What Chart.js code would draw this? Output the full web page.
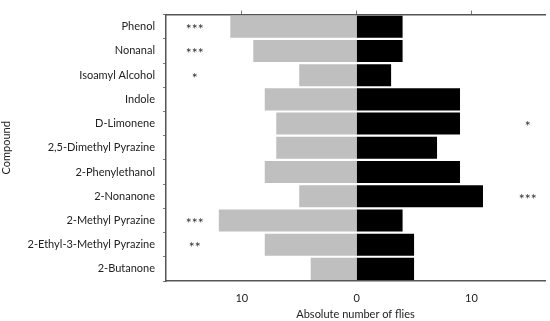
<!DOCTYPE html>
<html>
<head>
<meta charset="utf-8">
<script src="https://cdn.jsdelivr.net/npm/chart.js@4"></script>
<style>
  html, body { margin: 0; padding: 0; background: #fff; }
  #wrap { width: 550px; height: 321px; }
</style>
</head>
<body>
<div id="wrap"><canvas id="bar-chart" width="550" height="321"></canvas></div>
<script>
// compounds, top to bottom
var compounds = ['Phenol', 'Nonanal', 'Isoamyl Alcohol', 'Indole', 'D-Limonene',
    '2,5-Dimethyl Pyrazine', '2-Phenylethanol', '2-Nonanone', '2-Methyl Pyrazine',
    '2-Ethyl-3-Methyl Pyrazine', '2-Butanone'];
// gray bars (left side), black bars (right side)
var leftFlies = [11, 9, 5, 8, 7, 7, 8, 5, 12, 8, 4];
var rightFlies = [4, 4, 3, 9, 9, 7, 9, 11, 4, 5, 5];
// significance marks
var sigLeft = ['***', '***', '*', '', '', '', '', '', '***', '**', ''];
var sigRight = ['', '', '', '', '*', '', '', '***', '', '', ''];
var xTicks = [-10, 0, 10];

var FONT = 'Lato, "Open Sans", sans-serif';

document.addEventListener("DOMContentLoaded", function() {
    var ctx = document.getElementById('bar-chart').getContext('2d');

    // draws the asterisks next to the bars
    var starsPlugin = {
        id: 'stars',
        afterDatasetsDraw: function(chart) {
            var c = chart.ctx;
            var xs = chart.scales.x, ys = chart.scales.y;
            c.save();
            c.fillStyle = '#333';
            c.font = '14px ' + FONT;
            c.textAlign = 'center';
            c.textBaseline = 'middle';
            for (var i = 0; i < compounds.length; i++) {
                var y = ys.getPixelForValue(i) + 3;
                if (sigLeft[i]) c.fillText(sigLeft[i], xs.getPixelForValue(-14.1), y);
                if (sigRight[i]) c.fillText(sigRight[i], xs.getPixelForValue(14.9), y);
            }
            c.restore();
        }
    };

    new Chart(ctx, {
        type: 'bar',
        data: {
            labels: compounds,
            datasets: [{
                data: leftFlies.map(function(v) { return -v; }),
                backgroundColor: '#bfbfbf'
            }, {
                data: rightFlies,
                backgroundColor: '#000000'
            }]
        },
        options: {
            indexAxis: 'y',
            responsive: false,
            animation: false,
            layout: { padding: { top: 0, right: 5, bottom: 0, left: 0 } },
            plugins: { legend: { display: false }, tooltip: { enabled: false } },
            datasets: { bar: { categoryPercentage: 1, barPercentage: 0.91 } },
            scales: {
                x: {
                    stacked: true,
                    min: -16.6, max: 16.4,
                    afterBuildTicks: function(s) { s.ticks = xTicks.map(function(v) { return { value: v }; }); },
                    afterFit: function(s) { s.height = 40; },
                    grid: { display: false },
                    border: { display: true, color: '#555', width: 1.5 },
                    ticks: {
                        padding: 3, color: '#222', font: { family: FONT, size: 11 },
                        callback: function(v) { return Math.abs(v); }
                    },
                    title: {
                        display: true, text: 'Absolute number of flies', color: '#222',
                        font: { family: FONT, size: 11 }, padding: { top: 8, bottom: 0 }
                    }
                },
                x2: {
                    position: 'top',
                    min: -16.6, max: 16.4,
                    afterBuildTicks: function(s) { s.ticks = xTicks.map(function(v) { return { value: v }; }); },
                    afterFit: function(s) { s.height = 5; },
                    grid: { drawOnChartArea: false, tickLength: 4, color: '#777' },
                    border: { display: true, color: '#555', width: 1.5 },
                    ticks: { display: false }
                },
                y: {
                    stacked: true,
                    afterFit: function(s) { s.width = 166; },
                    grid: { drawOnChartArea: false, tickLength: 3, color: '#777' },
                    border: { display: true, color: '#555', width: 1.5 },
                    ticks: { padding: 8, color: '#222', font: { family: FONT, size: 11 } },
                    title: {
                        display: true, text: 'Compound', color: '#222',
                        font: { family: FONT, size: 11 }, padding: 0
                    }
                }
            }
        },
        plugins: [starsPlugin]
    });
});
</script>
</body>
</html>
